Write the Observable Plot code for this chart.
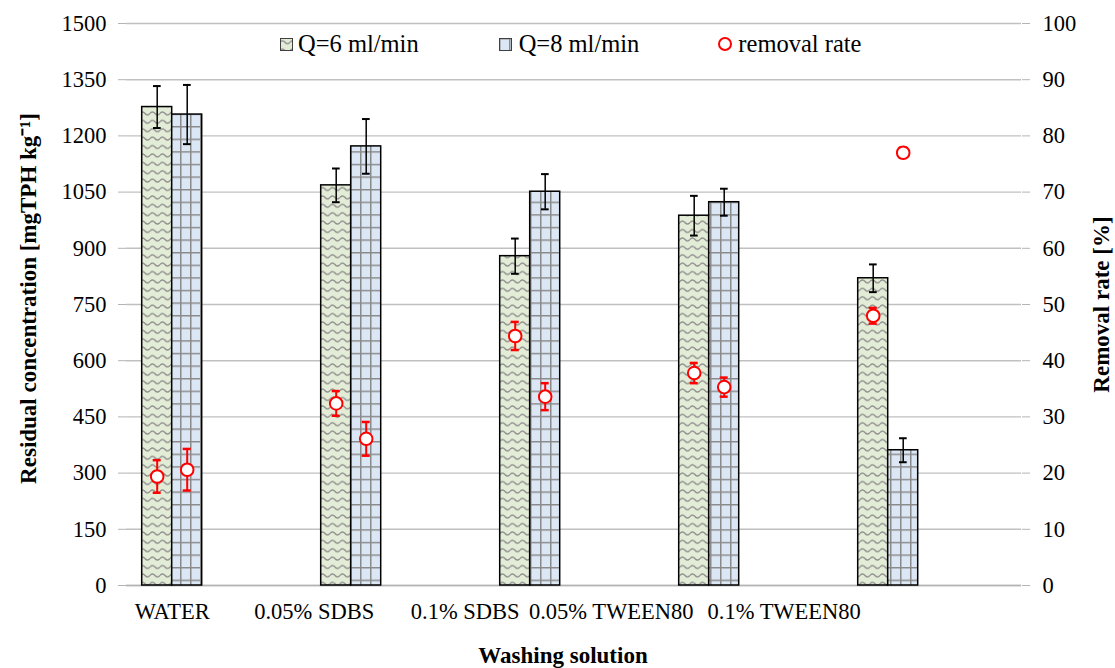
<!DOCTYPE html>
<html><head><meta charset="utf-8">
<script src="https://cdn.jsdelivr.net/npm/d3@7"></script>
<script src="https://cdn.jsdelivr.net/npm/@observablehq/plot@0.6"></script>
<style>
body{margin:0;background:#fff;}
#wrap{position:relative;width:1115px;height:668px;font-family:"Liberation Serif","Times New Roman",serif;}
#legend{position:absolute;top:32px;left:280px;display:flex;align-items:center;font-size:24.5px;color:#000;line-height:1;}
.item{display:flex;align-items:center;}
.item svg{margin-right:5px;}
#defs{position:absolute;width:0;height:0;}
</style></head><body>
<svg id="defs" width="0" height="0"><defs>
<pattern id="zig" patternUnits="userSpaceOnUse" width="10" height="8.4">
<rect width="10" height="8.4" fill="#e3ecd6"/>
<path d="M0,4.2 Q2.5,1.2 5,4.2 T10,4.2" fill="none" stroke="#8f8f8f" stroke-width="1.4"/>
</pattern>
<pattern id="grid" patternUnits="userSpaceOnUse" width="10" height="12.6">
<rect width="10" height="12.6" fill="#dce7f5"/>
<path d="M0,0.75H10M0.75,0V12.6" fill="none" stroke="#8a8a8a" stroke-width="1.5"/>
</pattern>
</defs></svg>
<div id="wrap">
<div id="legend">
<div class="item"><svg width="13" height="13"><rect x="0.5" y="0.5" width="12" height="12" fill="url(#zig)" stroke="#404040"/></svg>Q=6 ml/min</div>
<div class="item" style="margin-left:80px"><svg width="13" height="13" style="margin-right:7px"><rect x="0.5" y="0.5" width="12" height="12" fill="url(#grid)" stroke="#404040"/></svg>Q=8 ml/min</div>
<div class="item" style="margin-left:78px"><svg width="16" height="16" style="margin-right:5px"><circle cx="8" cy="8" r="6" fill="#fff" stroke="#ff0000" stroke-width="2"/></svg>removal rate</div>
</div>
</div>
<script>
const categories = ["WATER", "0.05% SDBS", "0.1% SDBS", "0.05% TWEEN80", "0.1% TWEEN80"];
const tickLabels = ["WATER", "0.05% SDBS", "0.1% SDBS", "0.05% TWEEN80", "0.1% TWEEN80"];
const q6 = [1277, 1068, 879, 987, 820];
const q6Err = [56, 45, 47, 53, 37];
const q8 = [1257, 1172, 1051, 1023, 361];
const q8Err = [79, 73, 47, 36, 32];
const rate6 = [19.4, 32.4, 44.4, 37.8, 48.0];
const rate6Err = [2.9, 2.2, 2.5, 1.8, 1.4];
const rate8 = [20.6, 26.1, 33.6, 35.3, 77.0];
const rate8Err = [3.7, 3.0, 2.4, 1.7, 0.9];
const yTicks = d3.range(0, 1501, 150);
const rateToY = 1500 / 100;

const s6 = categories.map((c, i) => ({cat: c, v: q6[i], e: q6Err[i], r: rate6[i], re: rate6Err[i]}));
const s8 = categories.map((c, i) => ({cat: c, v: q8[i], e: q8Err[i], r: rate8[i], re: rate8Err[i]}));

function errMarks(data, dx, capL, capR, color, sw, isRate) {
  const val = isRate ? (d => d.r * rateToY) : (d => d.v);
  const err = isRate ? (d => d.re * rateToY) : (d => d.e);
  return [
    Plot.ruleX(data, {x: "cat", y1: d => val(d) - err(d), y2: d => val(d) + err(d), dx, stroke: color, strokeWidth: sw}),
    Plot.tickY(data, {x: "cat", y: d => val(d) + err(d), insetLeft: capL, insetRight: capR, stroke: color, strokeWidth: sw + 0.5}),
    Plot.tickY(data, {x: "cat", y: d => val(d) - err(d), insetLeft: capL, insetRight: capR, stroke: color, strokeWidth: sw + 0.5})
  ];
}

// layout: horizontal nudge of each category label (as placed in the original figure)
const labelNudge = [0, -37, -65, -98, -104];
const labelMarks = categories.map((c, i) =>
  Plot.text([c], {x: d => d, text: () => tickLabels[i], frameAnchor: "bottom", textAnchor: "middle", dy: 33, dx: -43.8 + labelNudge[i]}));

const chart = Plot.plot({
  width: 1115, height: 668,
  marginLeft: 126, marginRight: 94, marginTop: 23, marginBottom: 83,
  style: {fontFamily: "Liberation Serif, Times New Roman, serif", fontSize: "22.5px", color: "#000", background: "transparent"},
  x: {domain: categories, padding: 0, axis: null},
  y: {domain: [0, 1500], axis: null},
  marks: [
    Plot.gridY(yTicks, {stroke: "#c0c0c0", strokeOpacity: 1, strokeWidth: 1.4}),
    Plot.ruleX([0], {frameAnchor: "left", stroke: "#b4b4b4", strokeWidth: 1.4}),
    Plot.axisY({anchor: "left", ticks: yTicks, tickSize: 8, tickPadding: 12, label: null, stroke: "#b4b4b4", tickFormat: d => String(d)}),
    Plot.axisY({anchor: "right", ticks: yTicks, tickSize: 8, tickPadding: 13, label: null, stroke: "#b4b4b4", tickFormat: d => String(d / rateToY)}),
    Plot.ruleY([0], {stroke: "#b4b4b4", strokeWidth: 1.4}),
    Plot.barY(s6, {x: "cat", y: "v", fill: "url(#zig)", stroke: "#000", strokeWidth: 1.5, insetLeft: 15.7, insetRight: 133.3}),
    Plot.barY(s8, {x: "cat", y: "v", fill: "url(#grid)", stroke: "#000", strokeWidth: 1.5, insetLeft: 45.7, insetRight: 103.3}),
    ...errMarks(s6, -58.8, 27, 144.3, "#000", 1.5, false),
    ...errMarks(s8, -28.8, 57, 114.3, "#000", 1.5, false),
    ...errMarks(s6, -58.8, 26.7, 144.3, "#ff0000", 2, true),
    ...errMarks(s8, -28.8, 56.7, 114.3, "#ff0000", 2, true),
    Plot.dot(s6, {x: "cat", y: d => d.r * rateToY, dx: -58.8, r: 6.3, fill: "#fff", stroke: "#ff0000", strokeWidth: 2}),
    Plot.dot(s8, {x: "cat", y: d => d.r * rateToY, dx: -28.8, r: 6.3, fill: "#fff", stroke: "#ff0000", strokeWidth: 2}),
    ...labelMarks,
    Plot.text(["Washing solution"], {frameAnchor: "bottom", textAnchor: "middle", dy: 77, dx: -11, fontWeight: "bold", fontSize: 23}),
    Plot.text(["Residual concentration [mgTPH kg\u207B\u00B9]"], {frameAnchor: "left", textAnchor: "middle", lineAnchor: "middle", rotate: -90, dx: -98, dy: -6, fontWeight: "bold", fontSize: 23}),
    Plot.text(["Removal rate [%]"], {frameAnchor: "right", textAnchor: "middle", lineAnchor: "middle", rotate: -90, dx: 80, dy: 0, fontWeight: "bold", fontSize: 23})
  ]
});
document.getElementById("wrap").prepend(chart);
chart.style.position = "absolute"; chart.style.left = "0"; chart.style.top = "0";
</script>
</body></html>
